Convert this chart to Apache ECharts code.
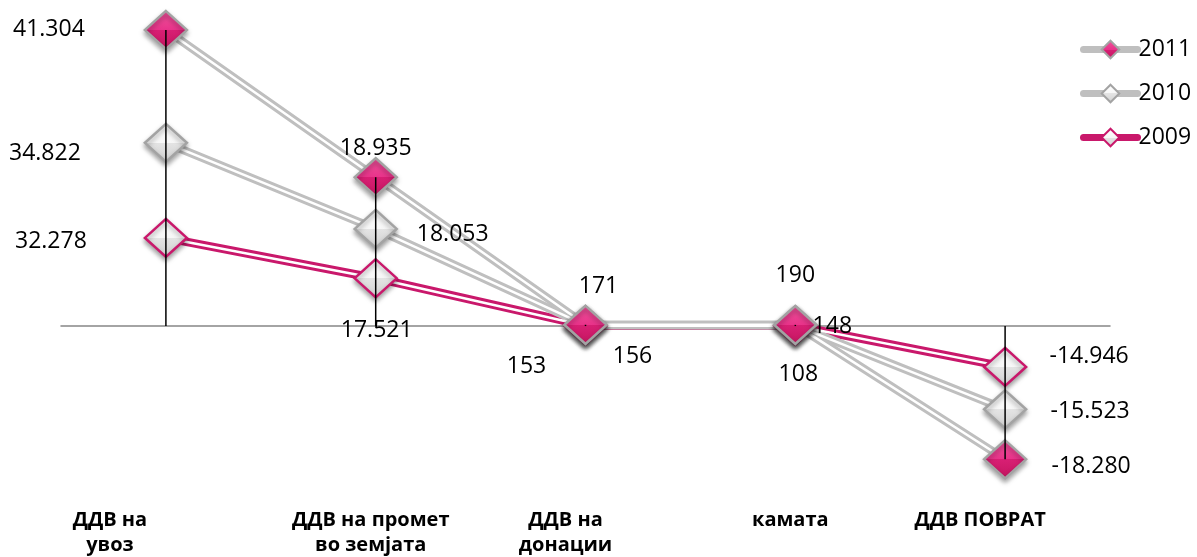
<!DOCTYPE html>
<html>
<head>
<meta charset="utf-8">
<script src="https://cdn.jsdelivr.net/npm/echarts@6/dist/echarts.min.js"></script>
<style>
  html, body { margin: 0; padding: 0; background: #fff; }
  #chart { width: 1197px; height: 557px; }
</style>
</head>
<body>
<div id="chart"></div>
<script>
// data
var categories = ["ДДВ на\nувоз", "ДДВ на промет\nво земјата", "ДДВ на\nдонации", "камата", "ДДВ ПОВРАТ"];
var years = ["2009", "2010", "2011"];
var values2009 = [32278, 17521, 153, 108, -14946];
var values2010 = [34822, 18053, 156, 148, -15523];
var values2011 = [41304, 18935, 171, 190, -18280];
var legendOrder = ["2011", "2010", "2009"];

// styles
var FONT = "Open Sans";
var GRAY = "#bfbfbf";
var PINK = "#c9186b";
var catLabelShift = [-56, -5, -20, -5, -25];
var labelOffsets = {
  "2011": [[-117, -1], [0, -29], [13, -38], [0, -49], [86, 7]],
  "2010": [[-121, 11], [77, 6], [47, 31], [37, 1], [85, 2]],
  "2009": [[-115, 4], [1, 52], [-59, 41], [3, 49], [84, -10]]
};

var valuesByYear = { "2009": values2009, "2010": values2010, "2011": values2011 };
var lineColor = { "2009": PINK, "2010": GRAY, "2011": GRAY };

function fmt(n) {
  var s = Math.abs(n).toString().replace(/\B(?=(\d{3})+(?!\d))/g, ".");
  return (n < 0 ? "-" : "") + s;
}

function grad(top, mid1, mid2, bottom) {
  return new echarts.graphic.LinearGradient(0, 0, 0, 1, [
    { offset: 0, color: top },
    { offset: 0.5, color: mid1 },
    { offset: 0.5, color: mid2 },
    { offset: 1, color: bottom }
  ]);
}

var markerStyle = {
  "2011": { color: grad("#f0559c", "#e8338a", "#d81f74", "#c4155f"), borderColor: "#a3a3a3" },
  "2010": { color: grad("#ffffff", "#f7f7f7", "#e4e4e4", "#d0d0d0"), borderColor: "#a3a3a3" },
  "2009": { color: grad("#ffffff", "#f7f7f7", "#e4e4e4", "#d0d0d0"), borderColor: PINK }
};

var totals = categories.map(function (c, i) {
  return values2009[i] + values2010[i] + values2011[i];
});

var series = [];
// outer stroke of double lines
years.forEach(function (y) {
  series.push({
    type: "line", name: "o" + y, stack: "outer", data: valuesByYear[y],
    symbol: "none", silent: true, z: 1,
    lineStyle: { color: lineColor[y], width: 8.5 }
  });
});
// inner white gap
years.forEach(function (y) {
  series.push({
    type: "line", name: "i" + y, stack: "inner", data: valuesByYear[y],
    symbol: "none", silent: true, z: 2,
    lineStyle: { color: "#ffffff", width: 2.5 }
  });
});
// markers + labels
years.forEach(function (y) {
  series.push({
    type: "line", name: y, stack: "mark", z: 3,
    data: valuesByYear[y].map(function (v, i) {
      return { value: v, label: { offset: labelOffsets[y][i] } };
    }),
    symbol: "diamond", symbolSize: [42, 38], showSymbol: true,
    lineStyle: { width: 0, opacity: 0, color: lineColor[y] },
    itemStyle: {
      color: markerStyle[y].color,
      borderColor: markerStyle[y].borderColor,
      borderWidth: 2.5,
      shadowBlur: 5, shadowColor: "rgba(0,0,0,0.35)", shadowOffsetY: 3
    },
    label: {
      show: true, position: "inside", color: "#000",
      fontFamily: FONT, fontSize: 23,
      formatter: function (p) { return fmt(p.value); }
    }
  });
});
// drop lines to the axis
series.push({
  type: "custom", name: "drop", silent: true, z: 10,
  data: totals.map(function (t, i) { return [i, t]; }),
  renderItem: function (params, api) {
    var p0 = api.coord([api.value(0), 0]);
    var p1 = api.coord([api.value(0), api.value(1)]);
    return {
      type: "line",
      shape: { x1: p0[0], y1: p0[1], x2: p1[0], y2: p1[1] },
      style: { stroke: "#000", lineWidth: 1.5 }
    };
  }
});

var rich = {};
catLabelShift.forEach(function (d, i) {
  rich["c" + i] = {
    fontFamily: FONT, fontWeight: "bold", fontSize: 20, lineHeight: 25, color: "#000",
    padding: d < 0 ? [0, -2 * d, 0, 0] : [0, 0, 0, 2 * d]
  };
});

var chart = echarts.init(document.getElementById("chart"));
chart.setOption({
  animation: false,
  grid: { left: 61, right: 87, top: 12, height: 491.6 },
  legend: {
    orient: "vertical", left: 1075, top: 33,
    itemWidth: 54, itemHeight: 22, itemGap: 21,
    data: legendOrder.map(function (y) {
      return { name: y, lineStyle: { width: 7, color: lineColor[y], opacity: 1, cap: "round" } };
    }),
    textStyle: { fontFamily: FONT, fontSize: 23, color: "#000", padding: [0, 0, 0, -4] }
  },
  xAxis: [
    {
      type: "category", data: categories, position: "bottom",
      axisLine: { onZero: true, lineStyle: { color: "#868686", width: 1.5 } },
      axisTick: { show: false }, axisLabel: { show: false }
    },
    {
      type: "category", data: categories, position: "bottom",
      axisLine: { show: false, onZero: false }, axisTick: { show: false },
      axisLabel: {
        margin: 4,
        formatter: function (v, i) {
          return v.split("\n").map(function (s) { return "{c" + i + "|" + s + "}"; }).join("\n");
        },
        rich: rich
      }
    }
  ],
  yAxis: { type: "value", min: -65000, max: 115000, show: false, splitLine: { show: false } },
  series: series
});
</script>
</body>
</html>
